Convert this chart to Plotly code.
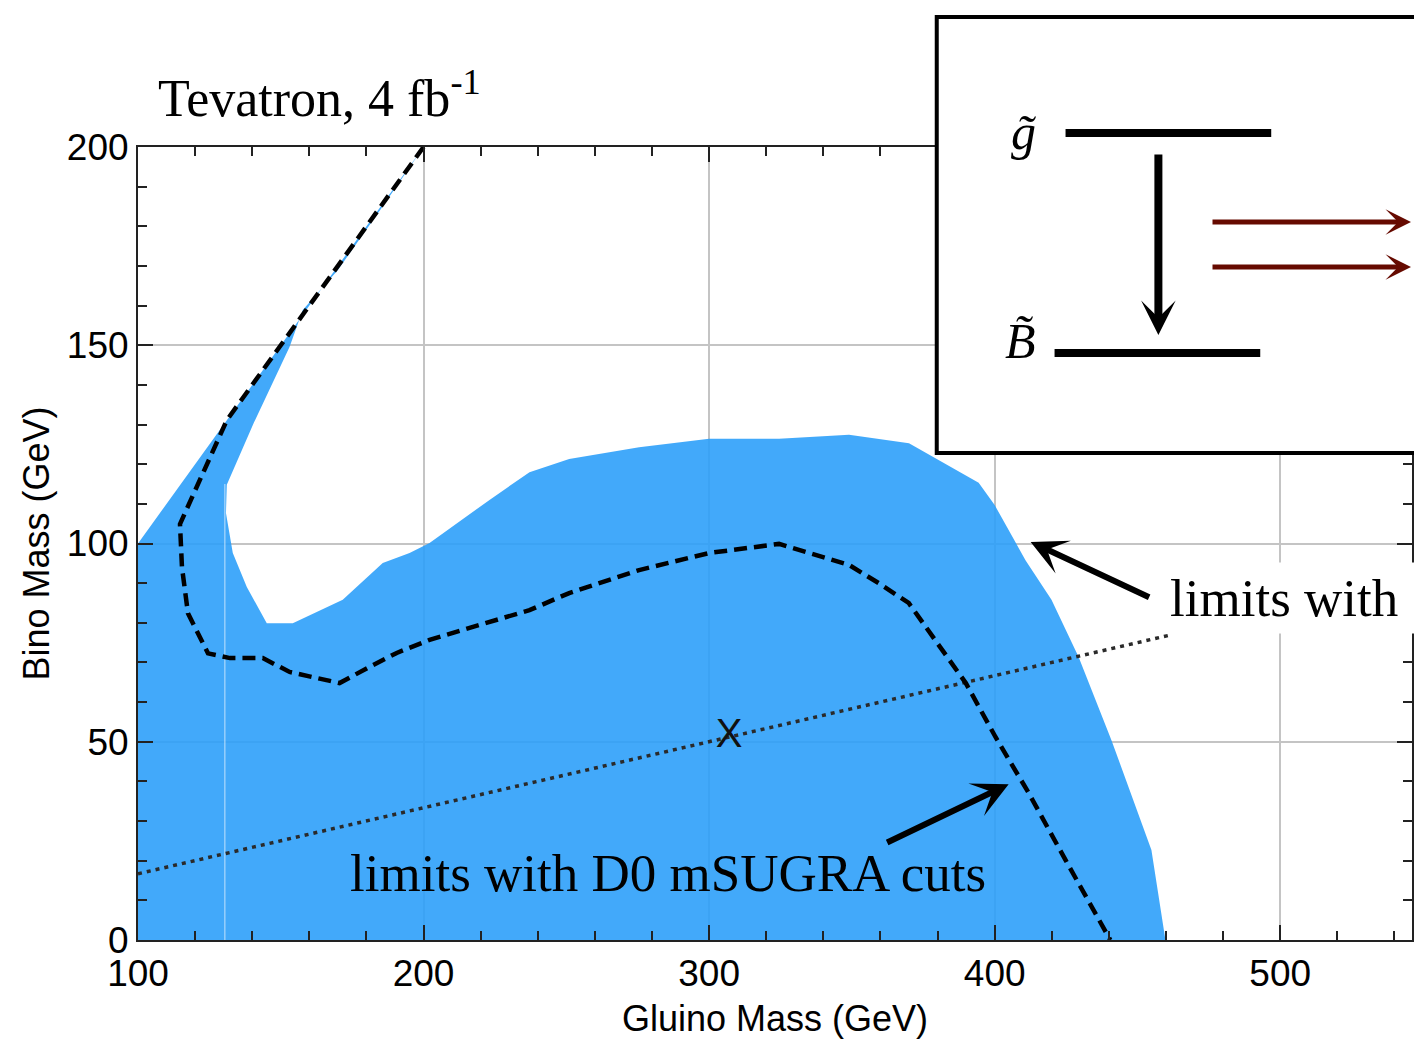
import plotly.graph_objects as go

# ---- data ----
# excluded region (blue), polygon outline in (gluino mass, bino mass)
region_x = [100, 100, 200, 185, 170, 157.7, 153.1, 140.6, 131.1, 130.8, 133.2, 138.1, 145.1, 154.2,
            171.7, 185.7, 195.1, 202.1, 223.1, 237.1, 251, 275.5, 300, 324.5, 349, 370, 394.4,
            400, 410.8, 419.9, 429.4, 440.9, 454.9, 459.8]
region_y = [0, 100, 200, 184.3, 169, 158.9, 149.6, 130.5, 114.8, 107.7, 97.6, 89, 79.9, 79.9,
            85.8, 95.1, 97.6, 100.1, 111, 118, 121.3, 124.3, 126.4, 126.4, 127.4, 125.3, 115.3,
            109.7, 95.8, 85.8, 71.4, 50.4, 22.7, 0]

# limits with D0 mSUGRA cuts (dashed)
cut_x = [200, 131.1, 114.7, 115.4, 117.5, 124.5, 132.2, 143.7, 153.1, 170.6, 181.1, 190.6, 202.1,
         219.6, 237.1, 251, 275.5, 300, 324.5, 349, 359.4, 369.9, 389.9, 400.3, 411.9, 424.8, 440.5]
cut_y = [200, 131.1, 104.9, 94, 82.4, 72.3, 71.1, 71.1, 67.6, 64.8, 68.9, 72.4, 75.7,
         79.4, 83.2, 87.5, 93.3, 97.6, 99.9, 94.6, 90, 85, 64.8, 51.2, 37.1, 20.2, 0]

# mSUGRA relation line (dotted)
msugra_x = [100, 462]
msugra_y = [16.7, 77]

# benchmark point
point_x = [307]
point_y = [51.2]

# rendering seam in the filled region
seam_x = [130.4, 130.4]
seam_y = [0, 115]

x_ticks = [100, 200, 300, 400, 500]
y_ticks = [0, 50, 100, 150, 200]

BLUE = "rgba(45,160,249,0.9)"
SERIF = "Liberation Serif"
SANS = "Liberation Sans"

fig = go.Figure()
fig.add_trace(go.Scatter(x=region_x, y=region_y, fill="toself", fillcolor=BLUE,
                         line=dict(width=0, color=BLUE), mode="lines", hoverinfo="skip"))
fig.add_trace(go.Scatter(x=seam_x, y=seam_y, mode="lines",
                         line=dict(color="rgba(255,255,255,0.45)", width=1.5)))
fig.add_trace(go.Scatter(x=msugra_x, y=msugra_y, mode="lines",
                         line=dict(color="#2a2a2a", width=3.5, dash="4px,5px")))
fig.add_trace(go.Scatter(x=cut_x, y=cut_y, mode="lines",
                         line=dict(color="black", width=4.5, dash="13px,7px")))
fig.add_trace(go.Scatter(x=point_x, y=point_y, mode="text", text=["X"],
                         textposition="middle center",
                         textfont=dict(family=SANS, size=40, color="#111")))

W, H = 1414, 1039
L, T, B = 138, 147, 99
PW, PH = W - L, H - T - B


def px(xp):
    return (xp - L) / PW


def py(yp):
    return (H - B - yp) / PH


shapes = [
    dict(type="rect", xref="paper", yref="paper", x0=px(938), x1=px(1440), y0=py(453), y1=py(17),
         line=dict(color="black", width=4), fillcolor="white", layer="above"),
    dict(type="line", xref="paper", yref="paper", x0=px(1067), x1=px(1273), y0=py(133), y1=py(133),
         line=dict(color="black", width=8), layer="above"),
    dict(type="line", xref="paper", yref="paper", x0=px(1056), x1=px(1262), y0=py(353), y1=py(353),
         line=dict(color="black", width=8), layer="above"),
]

annotations = [
    dict(xref="paper", yref="paper", x=px(156), y=py(95), xanchor="left", yanchor="middle",
         text="Tevatron, 4 fb<sup>-1</sup>", showarrow=False,
         font=dict(family=SERIF, size=52, color="black")),
    dict(xref="paper", yref="paper", x=px(348), y=py(873), xanchor="left", yanchor="middle",
         text="limits with D0 mSUGRA cuts", showarrow=False,
         font=dict(family=SERIF, size=53, color="black")),
    dict(xref="paper", yref="paper", x=px(1165), y=py(598), xanchor="left", yanchor="middle",
         text="limits with ", showarrow=False, bgcolor="white", borderpad=6,
         font=dict(family=SERIF, size=53, color="black")),
    # arrows to the curves
    dict(x=412.6, y=100.4, ax=120, ay=56, text="", showarrow=True, arrowhead=3,
         arrowwidth=6, arrowsize=1.0, arrowcolor="black"),
    dict(x=404.9, y=39.3, ax=-123, ay=59, text="", showarrow=True, arrowhead=3,
         arrowwidth=6, arrowsize=1.0, arrowcolor="black"),
    # inset labels
    dict(xref="paper", yref="paper", x=px(1039), y=py(102), text="<i>g\u0303</i>", showarrow=False,
         font=dict(family=SERIF, size=50, color="black")),
    dict(xref="paper", yref="paper", x=px(1039), y=py(311), text="<i>B\u0303</i>", showarrow=False,
         font=dict(family=SERIF, size=50, color="black")),
    # inset arrows
    dict(xref="paper", yref="paper", x=px(1160), y=py(335), ax=0, ay=-182, text="", showarrow=True,
         arrowhead=3, arrowwidth=8, arrowsize=0.72, arrowcolor="black"),
    dict(xref="paper", yref="paper", x=px(1413), y=py(222), ax=-200, ay=0, text="", showarrow=True,
         arrowhead=3, arrowwidth=5, arrowsize=0.85, arrowcolor="#660a00"),
    dict(xref="paper", yref="paper", x=px(1413), y=py(267), ax=-200, ay=0, text="", showarrow=True,
         arrowhead=3, arrowwidth=5, arrowsize=0.85, arrowcolor="#660a00"),
]

axis_common = dict(
    showline=True, linecolor="#222", linewidth=2, mirror="ticks",
    ticks="inside", ticklen=15, tickwidth=1.5, tickcolor="#222",
    showgrid=True, gridcolor="#c4c4c4", gridwidth=2, zeroline=False,
    tickfont=dict(family=SANS, size=37, color="black"),
)

fig.update_layout(
    width=W, height=H, margin=dict(l=L, r=0, t=T, b=B),
    paper_bgcolor="white", plot_bgcolor="white", showlegend=False,
    xaxis=dict(range=[100, 100 + PW / 2.86], tickvals=x_ticks,
               ticktext=[str(v) for v in x_ticks],
               minor=dict(dtick=20, tick0=100, ticks="inside", ticklen=9, tickcolor="#222",
                          tickwidth=1.5, showgrid=False),
               title=dict(text="Gluino Mass (GeV)", standoff=18,
                          font=dict(family=SANS, size=36, color="black")),
               **axis_common),
    yaxis=dict(range=[0, 200], tickvals=y_ticks, ticktext=[str(v) for v in y_ticks],
               minor=dict(dtick=10, tick0=0, ticks="inside", ticklen=9, tickcolor="#222",
                          tickwidth=1.5, showgrid=False),
               title=dict(text="Bino Mass (GeV)", standoff=6,
                          font=dict(family=SANS, size=36, color="black")),
               **axis_common),
    shapes=shapes, annotations=annotations,
)

fig.write_html("out.html")
